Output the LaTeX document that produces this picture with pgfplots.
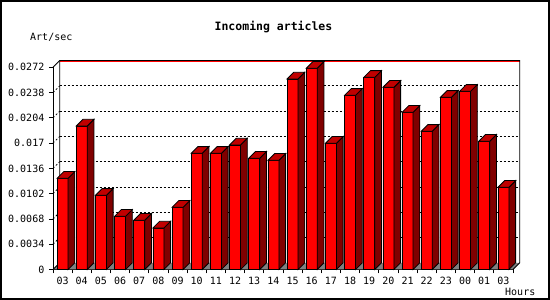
\documentclass[border=0pt]{standalone}
\usepackage{pgfplots}
\pgfplotsset{compat=1.18}
\usepackage{pgfplotstable}
\usepackage{fontspec}
\setmainfont{DejaVu Sans Mono}
\definecolor{barfront}{HTML}{FF0000}
\definecolor{barside}{HTML}{800000}
\definecolor{bartop}{HTML}{C00000}
\definecolor{floorgray}{HTML}{808080}

\pgfplotstableread{
i v
0 0.01227
1 0.01930
2 0.00998
3 0.00716
4 0.00662
5 0.00558
6 0.00837
7 0.01563
8 0.01563
9 0.01675
10 0.01496
11 0.01469
12 0.02563
13 0.02707
14 0.01698
15 0.02343
16 0.02585
17 0.02451
18 0.02115
19 0.01859
20 0.02316
21 0.02397
22 0.01725
23 0.01106
}\datatable

\def\hh{0}\def\hb{0}
% 3D side and top faces of a bar; mark sits at the top-centre of the front face
\pgfdeclareplotmark{bar3d}{%
  \pgfpathmoveto{\pgfpoint{5.5pt}{0pt}}%
  \pgfpathlineto{\pgfpoint{12.2pt}{6.7pt}}%
  \pgfpathlineto{\pgfpoint{12.2pt}{\hb pt}}%
  \pgfpathlineto{\pgfpoint{5.5pt}{-\hh pt}}%
  \pgfpathclose
  \pgfsetfillcolor{barside}%
  \pgfusepath{fill,stroke}%
  \pgfpathmoveto{\pgfpoint{-5.5pt}{0pt}}%
  \pgfpathlineto{\pgfpoint{5.5pt}{0pt}}%
  \pgfpathlineto{\pgfpoint{12.2pt}{6.7pt}}%
  \pgfpathlineto{\pgfpoint{1.2pt}{6.7pt}}%
  \pgfpathclose
  \pgfsetfillcolor{bartop}%
  \pgfusepath{fill,stroke}%
}

\begin{document}
\begin{tikzpicture}[x=1pt,y=1pt]
\path[use as bounding box] (0,0) rectangle (550,300);
\fill[white] (0,0) rectangle (550,300);
\draw[line width=2pt, black] (1,1) rectangle (549,299);

\node[font=\bfseries\fontsize{11.5}{14}\selectfont, anchor=base, inner sep=0pt] at (273.5,269.3) {Incoming articles};
\node[font=\fontsize{10}{12}\selectfont, anchor=base west, inner sep=0pt] at (30,259.3) {Art/sec};
\node[font=\fontsize{10}{12}\selectfont, anchor=base west, inner sep=0pt] at (505,4.3) {Hours};

\begin{axis}[
  at={(53pt,30.5pt)}, anchor=south west,
  scale only axis, width=460pt, height=202.2pt,
  xmin=-0.5, xmax=23.5, ymin=0, ymax=0.0272,
  enlargelimits=false, clip=false,
  axis x line*=bottom, axis y line*=left,
  axis line style={line width=0.8pt, black},
  tick align=outside,
  major tick length=4pt,
  xtick={-0.5,0.5,...,23.5},
  x tick label as interval,
  xticklabels={03,04,05,06,07,08,09,10,11,12,13,14,15,16,17,18,19,20,21,22,23,00,01,03},
  ytick={0,0.0034,0.0068,0.0102,0.0136,0.017,0.0204,0.0238,0.0272},
  yticklabels={0,0.0034,0.0068,0.0102,0.0136,0.017,0.0204,0.0238,0.0272},
  scaled y ticks=false,
  tick style={black, line width=0.8pt},
  ticklabel style={font=\fontsize{10}{12}\selectfont, inner sep=0pt},
  xticklabel style={anchor=base, yshift=-11.3pt},
  yticklabel style={anchor=east, xshift=-4.5pt},
]
% floor
\fill[floorgray] (axis cs:-0.5,0) -- (axis cs:23.5,0) -- ([shift={(6.7pt,6.7pt)}]axis cs:23.5,0) -- ([shift={(6.7pt,6.7pt)}]axis cs:-0.5,0) -- cycle;
% grid lines on the back wall and the left wall
\pgfplotsinvokeforeach{0.0034,0.0068,0.0102,0.0136,0.017,0.0204,0.0238}{
  \draw[line width=0.8pt, dash pattern=on 2pt off 2pt] ([shift={(6.7pt,6.7pt)}]axis cs:-0.5,#1) -- ([shift={(6.7pt,6.7pt)}]axis cs:23.5,#1);
  \draw[line width=0.8pt, dash pattern=on 2pt off 2pt] (axis cs:-0.5,#1) -- ([shift={(6.7pt,6.7pt)}]axis cs:-0.5,#1);
}
% walls
\draw[barfront, line width=0.9pt] ([shift={(6.7pt,5.8pt)}]axis cs:-0.5,0.0272) -- ([shift={(6.7pt,5.8pt)}]axis cs:23.5,0.0272);
\draw[line width=0.8pt] (axis cs:-0.5,0.0272) -- ([shift={(6.7pt,6.7pt)}]axis cs:-0.5,0.0272) -- ([shift={(6.7pt,6.7pt)}]axis cs:23.5,0.0272) -- ([shift={(6.7pt,6.7pt)}]axis cs:23.5,0) -- (axis cs:23.5,0);
\draw[line width=0.8pt] ([shift={(6.7pt,6.7pt)}]axis cs:-0.5,0.0272) -- ([shift={(6.7pt,6.7pt)}]axis cs:-0.5,0) -- (axis cs:-0.5,0);

% front faces
\addplot[ybar, bar width=11pt, fill=barfront, draw=black, line width=0.8pt] table[x=i, y=v] {\datatable};
% side and top faces (height taken from the point meta, mapped 0..0.0272 -> 0..1000)
\addplot[scatter, only marks, mark=bar3d,
  point meta=y, point meta min=0, point meta max=0.0272,
  scatter/@pre marker code/.code={%
    \pgfmathsetmacro{\hh}{\pgfplotspointmetatransformed*0.2022}%
    \pgfmathsetmacro{\hb}{6.7-\hh}%
    \pgfsetstrokecolor{black}%
    \pgfsetlinewidth{0.8pt}%
  },
  scatter/@post marker code/.code={},
  ]
  table[x=i, y=v] {\datatable};
\end{axis}
\end{tikzpicture}
\end{document}
